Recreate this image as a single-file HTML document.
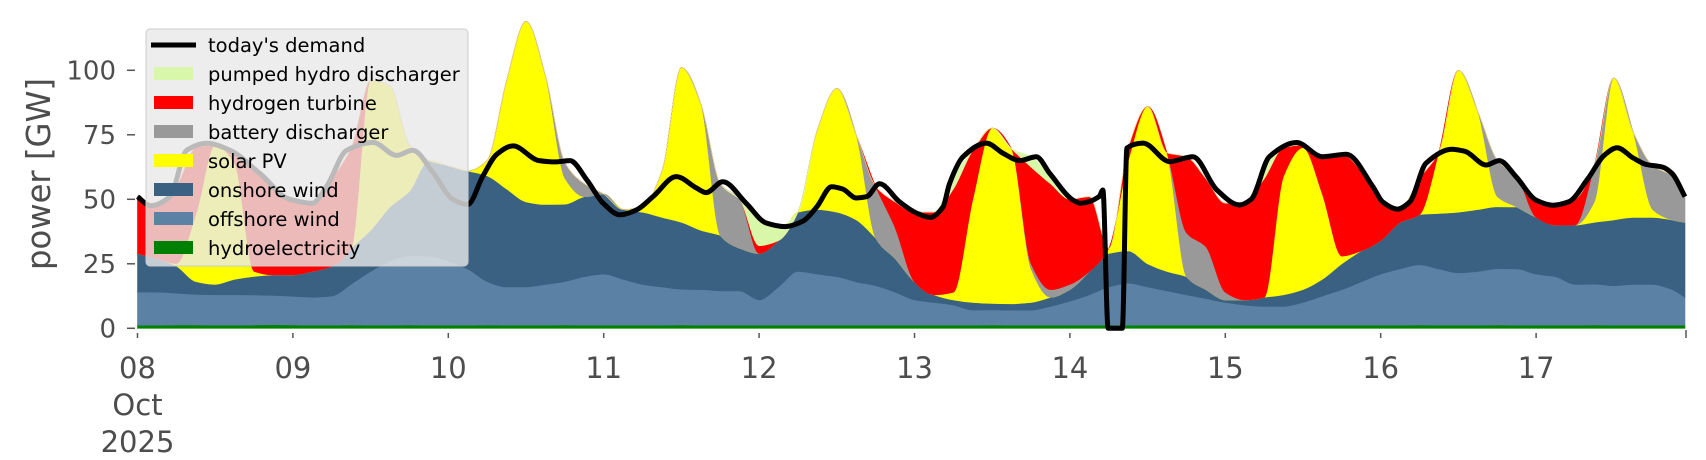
<!DOCTYPE html>
<html><head><meta charset="utf-8"><style>
html,body{margin:0;padding:0;background:#fff;}
svg{display:block;font-family:"DejaVu Sans","Liberation Sans",sans-serif;}
</style></head><body>
<svg id="chart" width="1706" height="460" viewBox="0 0 1706 460" xmlns="http://www.w3.org/2000/svg">
<g id="areas"></g>
<g id="demandg"></g>
<g id="axes"></g>
<text x="0" y="0" transform="translate(50,174) rotate(-90)" text-anchor="middle" font-size="33" textLength="192" lengthAdjust="spacingAndGlyphs" fill="#4d4d4d">power [GW]</text>
<g id="legend"></g>
</svg>
<script>
const hours=[0,3,6,9,12,15,18,21,24,27,30,33,36,39,42,45,48,51,54,57,60,63,66,69,72,75,78,81,84,87,90,93,96,99,102,105,108,111,114,117,120,123,126,129,132,135,138,141,144,147,150,153,156,159,162,165,168,171,174,177,180,183,186,189,192,195,198,201,204,207,210,213,216,219,222,225,228,231,234,237,239];
const hydro=[1.2,1.2,1.3,1.3,1.2,1.2,1.3,1.4,1.3,1.2,1.2,1.3,1.2,1.2,1.3,1.2,1.2,1.2,1.3,1.2,1.2,1.2,1.3,1.2,1.2,1.2,1.2,1.2,1.3,1.2,1.2,1.2,1.2,1.2,1.2,1.2,1.2,1.2,1.2,1.2,1.2,1.2,1.2,1.2,1.3,1.2,1.2,1.2,1.2,1.2,1.2,1.2,1.2,1.2,1.2,1.2,1.2,1.2,1.2,1.2,1.2,1.2,1.2,1.2,1.2,1.2,1.3,1.2,1.2,1.2,1.3,1.2,1.2,1.2,1.2,1.3,1.2,1.2,1.2,1.2,1.2];
const offshore=[12.8,12.8,12.3,11.8,11.8,11.8,11.6,11.3,11.1,10.8,11.3,15.8,20.8,24.8,26.8,26.8,24.8,21.8,16.8,14.8,14.8,15.8,16.8,18.8,19.8,17.8,15.8,14.8,13.8,13.8,13.3,13.3,9.8,14.8,20.8,19.8,18.8,16.8,15.3,12.8,9.8,8.8,7.8,5.8,5.8,5.8,5.8,7.3,9.3,11.8,14.8,16.3,14.8,13.3,11.8,10.3,8.8,7.8,7.3,7.3,8.8,11.3,13.8,16.8,19.8,21.8,23.3,21.8,20.3,20.8,21.8,21.8,19.8,18.8,15.8,15.8,15.3,15.8,15.8,13.8,10.8];
const onshore=[15,13,10.5,5,4,6,7.2,8,8.3,10,11.5,14,16,21,25,37,37,38,41,38,33,31,30,31,31,27,28,27,26,23,21.5,16.5,18,18,23,25,25,24,18.5,13,7,3,2,3,2.5,2.5,3,3.5,4.5,9,13,12.5,9,7.5,7,3.5,1,2,3.5,4.5,5,6.5,10,12,13,18,19.5,21.5,23.5,24,24,24,22,20,23,24,25.5,26,26,27,29];
const solar=[0,0,1,26,54,45,2,0,0,0,0,0,58,47,18,0,0,0,6,42,70,50,10,0,0,0,2,18,60,49,0,0,0,0,0,31,48,33,0,0,0,0,3,40,68,60,13,0,0,0,2,35,61,46,0,0,0,0,0,46,55,33,3,0,0,0,0,24,55,38,4,0,0,0,0,8,55,33,3,0,0];
const battery=[0,0,0,0,0,0,0,0,0,0,0,0,0,0,0,0,0,0,0,0,0,0,6,5,0,0,0,0,0,0,20,19,0,0,0,0,0,0,20,12,0,0,0,0,0,0,2,3,2,0,0,0,0,0,17,16.6,3,0,0,0,0,0,0,0,0,0,0,0,0,0,14,12,0,0,0,14,0,0,17,17,10];
const hydrogen=[22,21,30,26,0,4,40,33.5,28.4,26.5,34,39,0,0,0,0,0,0,0,0,0,0,0,0,0,0,0,0,0,0,0,0,3,0,0,0,0,0,0,10,27,32,40,19,0,0,37.5,41,33,29,0,5,0,0,29.5,26.4,34.5,38,46,11,1,14.5,39.5,31,15.5,5.5,14,0,0,0,0,0,6.7,8,10,0,0,0,0,0,0];
const pumped=[0,0,0,0,0,0,0,0,0,0,0,0,0,0,0,0,0,0,0,0,0,0,0,0,0,0,0,0,0,0,0,0,10,5.5,0,0,0,0,0,0,0,0,5,0,0,0,4,3,0,0,0,0,0,0,0,0,0,0,4,0,0,0,0,0,0,0,0,0,0,0,0,0,0,0,0,0,0,0,0,0,0];
const demandHours=[0,2,5,7.6,10.7,14.3,18.9,23.5,27,29.2,32.3,36.4,40,42.5,45.6,48.7,51,53.3,55.5,58,62,64.5,66.8,69.4,71.9,74.5,77,79.6,83.2,86.3,87.8,90.4,94,97.1,100,102.8,104.9,107.2,108.9,111,112.6,114.6,117.7,120.3,122.4,124.4,125.4,127.5,131.1,133.7,136.3,138.8,140.9,144.5,145.6,148.5,149.1,149.9,152.1,152.8,155.3,159.4,163,166.7,170.2,172,174.8,179,183,186.7,190.8,192.3,194.6,196.5,199,203,205,208.3,210.3,212.9,216,218.6,221,224,226.5,228.5,231,233,235.5,237,239];
const demand=[51,47.5,51,69,71.7,69,60,50,48.5,55,69,72,67,69,60.5,50,48,58.8,67.5,70.7,65,64.5,65,57.5,48.5,44,45.8,51,58.8,54.4,52.6,56.8,48.5,40.8,39.4,41.6,47,54.9,54,50.5,51,56,49,44.7,43,47,56,66.5,71.8,67.8,65,66.5,60,49.7,48.5,51,53.6,0,0,69.9,71.8,64.6,66.5,53.6,47.8,50,66.5,72,66.5,67.5,54.9,49,46.2,49,64,69.4,68.6,63.3,65,58.8,49.7,47.7,49,58,67,70,66,63.5,62.5,60,51];
const yTicks=[0,25,50,75,100];
const xTickDays=[0,1,2,3,4,5,6,7,8,9];
const xTickLabels=["08","09","10","11","12","13","14","15","16","17"];

const NS="http://www.w3.org/2000/svg";
const X0=137.5, PXDAY=155.4, Y0=328.3, PXGW=2.58, XEND=1686;
function X(h){return X0+h/24*PXDAY;}
function Y(v){return Y0-v*PXGW;}
function mk(tag,attrs,parent){const e=document.createElementNS(NS,tag);for(const k in attrs)e.setAttribute(k,attrs[k]);parent.appendChild(e);return e;}
// monotone cubic path segments (Fritsch-Carlson), symmetric in direction
function monoPath(pts,startCmd){
  const n=pts.length;
  const dx=[],m=[];
  for(let i=0;i<n-1;i++){dx.push(pts[i+1][0]-pts[i][0]);m.push((pts[i+1][1]-pts[i][1])/(dx[i]||1e-9));}
  const t=new Array(n);
  t[0]=m[0];t[n-1]=m[n-2];
  for(let i=1;i<n-1;i++){
    if(m[i-1]*m[i]<=0)t[i]=0;
    else{const w1=2*dx[i]+dx[i-1],w2=dx[i]+2*dx[i-1];t[i]=(w1+w2)/(w1/m[i-1]+w2/m[i]);}
  }
  let d=startCmd+pts[0][0].toFixed(1)+","+pts[0][1].toFixed(1);
  for(let i=0;i<n-1;i++){
    const h=dx[i]/3;
    d+="C"+(pts[i][0]+h).toFixed(1)+","+(pts[i][1]+t[i]*h).toFixed(1)+" "+(pts[i+1][0]-h).toFixed(1)+","+(pts[i+1][1]-t[i+1]*h).toFixed(1)+" "+pts[i+1][0].toFixed(1)+","+pts[i+1][1].toFixed(1);
  }
  return d;
}

const series=[
 {name:"hydroelectricity",vals:hydro,color:"#008000"},
 {name:"offshore wind",vals:offshore,color:"#5b82a5"},
 {name:"onshore wind",vals:onshore,color:"#3b6182"},
 {name:"solar PV",vals:solar,color:"#ffff00"},
 {name:"battery discharger",vals:battery,color:"#999999"},
 {name:"hydrogen turbine",vals:hydrogen,color:"#ff0000"},
 {name:"pumped hydro discharger",vals:pumped,color:"#d9f7a8"}
];
const areas=document.getElementById('areas');
let base=hours.map(()=>0);
series.forEach(s=>{
  const top=base.map((b,i)=>b+s.vals[i]);
  const tp=hours.map((h,i)=>[X(h),Y(top[i])]);
  const bp=hours.map((h,i)=>[X(h),Y(base[i])]).reverse();
  const d=monoPath(tp,"M")+monoPath(bp,"L")+"Z";
  const p=mk('path',{d:d,fill:s.color,stroke:s.color,'stroke-width':0.6},areas);
  
  
  base=top;
});
const dg=document.getElementById('demandg');
const dl=mk('path',{d:monoPath(demandHours.map((h,i)=>[X(h),Y(demand[i])]),"M"),fill:"none",stroke:"#000",'stroke-width':5,'stroke-linejoin':'round'},dg);



const ax=document.getElementById('axes');
yTicks.forEach(v=>{
  const t=mk('line',{x1:127,x2:135,y1:Y(v),y2:Y(v),stroke:"#555",'stroke-width':1.5},ax);
  
  
  const l=mk('text',{x:116,y:Y(v)+9,'text-anchor':'end','font-size':26,fill:'#4d4d4d'},ax);
  l.textContent=v;
  
  
});
xTickDays.forEach((d,i)=>{
  const x=X(d*24);
  const t=mk('line',{x1:x,x2:x,y1:333,y2:338,stroke:"#555",'stroke-width':1.5},ax);
  
  
  const l=mk('text',{x:x,y:378,'text-anchor':'middle','font-size':29,fill:'#4d4d4d'},ax);
  l.textContent=xTickLabels[i];
  
  
});
const te=mk('line',{x1:XEND,x2:XEND,y1:330,y2:338,stroke:"#555",'stroke-width':1.5},ax);


[["Oct",415],["2025",452]].forEach(a=>{
  const l=mk('text',{x:X0,y:a[1],'text-anchor':'middle','font-size':29,fill:'#4d4d4d'},ax);
  l.textContent=a[0];
  
  
});

const lg=document.getElementById('legend');
const box=mk('rect',{x:146,y:29,width:322,height:237,rx:4,fill:"#e8e8e8",'fill-opacity':0.8,stroke:"#cccccc",'stroke-width':1},lg);


const entries=[["today's demand",null]].concat(series.slice().reverse().map(s=>[s.name,s.color]));
entries.forEach((e,i)=>{
  const cy=45+i*29;
  if(e[1]===null){
    const h=mk('line',{x1:151,x2:196,y1:cy,y2:cy,stroke:"#000",'stroke-width':5},lg);
    
    
  } else {
    const h=mk('rect',{x:154,y:cy-7,width:39,height:13,fill:e[1]},lg);
    
    
  }
  const t=mk('text',{x:208,y:cy+7,'font-size':19.5,fill:'#000'},lg);
  t.textContent=e[0];
  
  
});
</script>
</body></html>
